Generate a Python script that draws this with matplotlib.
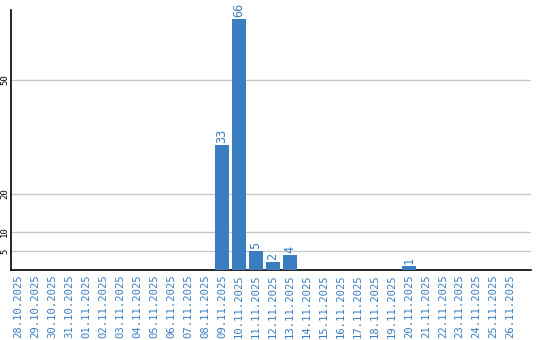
import matplotlib
matplotlib.use("Agg")
import matplotlib.pyplot as plt

dates = ["28.10.2025", "29.10.2025", "30.10.2025", "31.10.2025", "01.11.2025",
         "02.11.2025", "03.11.2025", "04.11.2025", "05.11.2025", "06.11.2025",
         "07.11.2025", "08.11.2025", "09.11.2025", "10.11.2025", "11.11.2025",
         "12.11.2025", "13.11.2025", "14.11.2025", "15.11.2025", "16.11.2025",
         "17.11.2025", "18.11.2025", "19.11.2025", "20.11.2025", "21.11.2025",
         "22.11.2025", "23.11.2025", "24.11.2025", "25.11.2025", "26.11.2025"]
counts = [0, 0, 0, 0, 0, 0, 0, 0, 0, 0, 0, 0, 33, 66, 5, 2, 4, 0, 0, 0,
          0, 0, 0, 1, 0, 0, 0, 0, 0, 0]
yticks = [5, 10, 20, 50]

blue = "#3b7dc1"

fig = plt.figure(figsize=(5.4, 3.4), dpi=100)
ax = fig.add_axes([11/540, 70/340, 520/540, 260/340])

x = list(range(len(dates)))
bars = ax.bar(x, counts, width=0.82, color=blue, zorder=3)
for xi, v in zip(x, counts):
    if v > 0:
        ax.text(xi, v + 0.5, str(v), rotation=90, ha="center", va="bottom",
                color=blue, fontsize=8.5, family="DejaVu Sans Mono")

ax.set_xlim(-0.42, 30.2)
ax.set_ylim(0, 68.4)
ax.set_xticks(x)
ax.set_xticklabels(dates, rotation=90, color=blue, fontsize=7.6,
                   family="DejaVu Sans Mono")
ax.set_yticks(yticks)
ax.set_yticklabels([str(t) for t in yticks], rotation=90, fontsize=6.5,
                   family="DejaVu Sans Mono", va="center")
ax.tick_params(axis="both", length=0, pad=3)
ax.tick_params(axis="y", pad=1.5)
ax.grid(axis="y", color="#c8c8c8", linewidth=1, zorder=0)
for s in ["top", "right"]:
    ax.spines[s].set_visible(False)
ax.spines["left"].set_linewidth(1.2)
ax.spines["bottom"].set_linewidth(1.2)

plt.savefig("out.png", dpi=100)
